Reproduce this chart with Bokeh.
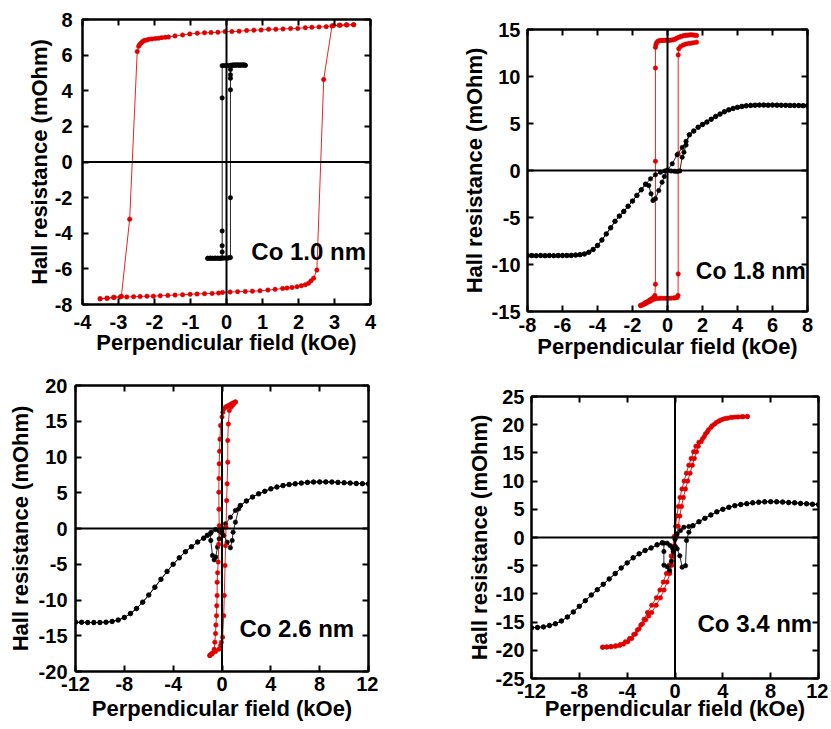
from bokeh.plotting import figure
from bokeh.models import Range1d, FixedTicker, LinearAxis, Span, Label, Spacer
from bokeh.layouts import row, column
from bokeh.embed import file_html
from bokeh.resources import INLINE

# ---------------- data ----------------
# Panel 1: Co 1.0 nm
co10_red_down_x = [3.53, 3.34, 3.16, 2.97, 2.77, 2.57, 2.37, 2.19, 1.98, 1.78, 1.57, 1.37, 1.17, 0.96, 0.76,
                   0.56, 0.35, 0.15, -0.04, -0.24, -0.43, -0.61, -0.81, -1.02, -1.22, -1.43, -1.61, -1.70, -1.80, -1.89,
                   -1.98, -2.07, -2.15, -2.22, -2.28, -2.33, -2.37, -2.41, -2.44, -2.48, -2.69, -2.92, -3.12, -3.32, -3.51]
co10_red_down_y = [7.71, 7.69, 7.68, 7.66, 7.60, 7.58, 7.56, 7.54, 7.50, 7.49, 7.47, 7.45, 7.45, 7.41, 7.40,
                   7.38, 7.34, 7.32, 7.32, 7.28, 7.27, 7.25, 7.23, 7.19, 7.13, 7.08, 7.02, 7.00, 6.98, 6.95,
                   6.93, 6.91, 6.89, 6.85, 6.82, 6.76, 6.68, 6.59, 6.50, 6.20, -3.21, -7.54, -7.60, -7.64, -7.68]
co10_red_up_x = [-3.51, -3.32, -3.14, -2.95, -2.77, -2.58, -2.40, -2.21, -2.03, -1.84, -1.63, -1.43, -1.22, -1.01,
                 -0.82, -0.61, -0.40, -0.22, -0.11, 0.10, 0.31, 0.52, 0.72, 0.93, 1.15, 1.35, 1.56, 1.68, 1.82, 1.96,
                 2.08, 2.19, 2.28, 2.35, 2.42, 2.51, 2.70, 2.93, 3.13, 3.33, 3.53]
co10_red_up_y = [-7.68, -7.66, -7.60, -7.58, -7.58, -7.56, -7.55, -7.53, -7.53, -7.51, -7.49, -7.47, -7.45, -7.43,
                 -7.41, -7.39, -7.38, -7.36, -7.32, -7.30, -7.28, -7.27, -7.25, -7.23, -7.19, -7.15, -7.10, -7.08,
                 -7.04, -7.00, -6.95, -6.89, -6.80, -6.67, -6.52, -6.07, 4.63, 7.64, 7.68, 7.70, 7.71]
co10_blk_down_x = [0.52, 0.48, 0.44, 0.40, 0.36, 0.32, 0.28, 0.24, 0.20, 0.16, 0.12, 0.06, 0.0, -0.06, -0.12,
                   -0.12, -0.12, -0.12, -0.12, -0.12, -0.17, -0.24, -0.31, -0.38, -0.45, -0.52]
co10_blk_down_y = [5.43, 5.45, 5.44, 5.45, 5.43, 5.44, 5.45, 5.43, 5.44, 5.42, 5.43, 5.42, 5.41, 5.42, 5.41,
                   3.60, -3.87, -4.70, -5.05, -5.38, -5.40, -5.41, -5.40, -5.41, -5.40, -5.41]
co10_blk_up_x = [-0.52, -0.45, -0.38, -0.31, -0.24, -0.17, -0.10, -0.04, 0.02, 0.07, 0.11, 0.11, 0.11, 0.11,
                 0.11, 0.11, 0.11, 0.16, 0.22, 0.28, 0.34, 0.40, 0.46, 0.52]
co10_blk_up_y = [-5.41, -5.40, -5.41, -5.40, -5.40, -5.41, -5.40, -5.39, -5.40, -5.38, -5.36, -2.00, 4.05, 4.70,
                 4.90, 5.20, 5.40, 5.44, 5.45, 5.44, 5.45, 5.44, 5.45, 5.43]

# Panel 2: Co 1.8 nm
co18_red_down_x = [1.66, 1.55, 1.45, 1.35, 1.25, 1.15, 1.05, 0.95, 0.85, 0.75, 0.65, 0.55, 0.45, 0.35, 0.25,
                   0.15, 0.05, -0.05, -0.15, -0.25, -0.35, -0.45, -0.55, -0.62, -0.66, -0.69, -0.69, -0.69, -0.69,
                   -0.72, -0.80, -0.90, -1.00, -1.10, -1.20, -1.30, -1.42, -1.54]
co18_red_down_y = [14.35, 14.40, 14.42, 14.43, 14.42, 14.40, 14.38, 14.35, 14.30, 14.25, 14.18, 14.10, 14.00,
                   13.92, 13.88, 13.86, 13.85, 13.85, 13.85, 13.84, 13.84, 13.82, 13.75, 13.60, 13.40, 13.10,
                   10.90, 0.99, -12.10, -13.30, -13.50, -13.65, -13.75, -13.90, -14.00, -14.10, -14.25, -14.36]
co18_red_up_x = [-1.54, -1.42, -1.30, -1.20, -1.10, -1.00, -0.90, -0.80, -0.70, -0.55, -0.40, -0.25, -0.10, 0.05,
                 0.20, 0.35, 0.45, 0.55, 0.60, 0.61, 0.61, 0.61, 0.64, 0.75, 0.90, 1.05, 1.20, 1.35, 1.50, 1.66]
co18_red_up_y = [-14.36, -14.30, -14.20, -14.10, -14.00, -13.90, -13.80, -13.70, -13.65, -13.62, -13.60, -13.60,
                 -13.60, -13.60, -13.58, -13.56, -13.55, -13.50, -13.30, -11.00, 1.77, 12.30, 12.94, 13.20, 13.35,
                 13.45, 13.50, 13.55, 13.60, 13.65]
co18_blk_left_x = [-8.0, -7.75, -7.5, -7.25, -7.0, -6.75, -6.5, -6.25, -6.0, -5.75, -5.5, -5.25, -5.0, -4.75,
                   -4.5, -4.25, -4.0, -3.75, -3.5, -3.25, -3.0, -2.75, -2.5, -2.25, -2.0, -1.75, -1.5, -1.25]
co18_blk_left_y = [-9.05, -9.05, -9.06, -9.05, -9.06, -9.05, -9.06, -9.05, -9.05, -9.04, -9.03, -9.0, -8.95,
                   -8.88, -8.7, -8.4, -7.98, -7.4, -6.75, -6.1, -5.4, -4.85, -4.35, -3.8, -3.25, -2.65, -2.05, -1.45]
co18_blk_right_x = [1.25, 1.5, 1.75, 2.0, 2.25, 2.5, 2.75, 3.0, 3.25, 3.5, 3.75, 4.0, 4.25, 4.5, 4.75, 5.0,
                    5.25, 5.5, 5.75, 6.0, 6.25, 6.5, 6.75, 7.0, 7.25, 7.5, 7.75, 8.0]
co18_blk_right_y = [3.8, 4.2, 4.6, 4.9, 5.15, 5.45, 5.75, 6.0, 6.25, 6.45, 6.6, 6.72, 6.82, 6.88, 6.92, 6.95,
                    6.96, 6.96, 6.95, 6.96, 6.95, 6.94, 6.93, 6.92, 6.92, 6.91, 6.9, 6.9]
co18_blk_mid_down_x = [1.06, 0.84, 0.55, 0.27, 0.0, -0.18, -0.31, -0.50, -0.69, -0.83, -0.94, -1.07]
co18_blk_mid_down_y = [3.1, 2.45, 1.67, 0.71, 0.05, -0.64, -1.24, -2.13, -3.0, -3.19, -2.48, -1.6]
co18_blk_mid_up_x = [-0.97, -0.69, -0.40, -0.15, 0.0, 0.2, 0.4, 0.55, 0.70, 0.84, 0.94, 1.06]
co18_blk_mid_up_y = [-0.89, -0.46, -0.18, -0.05, 0.0, -0.05, -0.08, -0.1, -0.05, 1.42, 1.95, 2.7]

# Panel 3: Co 2.6 nm
co26_red_down_x = [1.10, 0.97, 0.83, 0.70, 0.56, 0.42, 0.29, 0.15, 0.07, 0.00, -0.12, -0.17, -0.20, -0.23, -0.25,
                   -0.26, -0.25, -0.23, -0.27, -0.31, -0.36, -0.40, -0.40, -0.43, -0.45, -0.50, -0.53, -0.59,
                   -0.64, -0.78, -0.90, -1.00]
co26_red_down_y = [17.70, 17.60, 17.50, 17.35, 17.22, 17.10, 16.97, 16.74, 16.27, 15.60, 14.40, 12.50, 10.80,
                   9.05, 7.00, 5.08, 2.70, 0.40, -2.20, -4.70, -6.20, -7.50, -9.37, -10.80, -12.20, -13.50,
                   -14.70, -15.90, -16.90, -17.40, -17.60, -17.76]
co26_red_up_x = [-1.00, -0.81, -0.53, -0.26, -0.12, -0.05, 0.05, 0.14, 0.19, 0.25, 0.29, 0.33, 0.38, 0.42, 0.47,
                 0.47, 0.52, 0.60, 0.75, 0.87, 0.97, 1.10]
co26_red_up_y = [-17.76, -17.53, -17.20, -16.90, -16.36, -15.90, -15.20, -12.20, -9.37, -5.17, -2.40, 0.19,
                 3.90, 6.25, 9.28, 12.30, 14.60, 16.50, 17.00, 17.25, 17.45, 17.70]
co26_blk_left_x = [-12, -11.5, -11, -10.5, -10, -9.5, -9, -8.5, -8, -7.5, -7, -6.5, -6, -5.5, -5, -4.5, -4,
                   -3.5, -3, -2.5, -2, -1.5]
co26_blk_left_y = [-13.1, -13.12, -13.15, -13.15, -13.15, -13.1, -13.0, -12.8, -12.45, -11.9, -11.2, -10.3,
                   -9.3, -8.2, -7.1, -6.0, -5.0, -4.1, -3.25, -2.55, -1.9, -1.35]
co26_blk_right_x = [1.5, 2, 2.5, 3, 3.5, 4, 4.5, 5, 5.5, 6, 6.5, 7, 7.5, 8, 8.5, 9, 9.5, 10, 10.5, 11, 11.5, 12]
co26_blk_right_y = [3.2, 3.85, 4.4, 4.85, 5.2, 5.55, 5.8, 6.0, 6.15, 6.25, 6.35, 6.45, 6.5, 6.52, 6.52, 6.5,
                    6.45, 6.4, 6.35, 6.3, 6.27, 6.25]
co26_blk_mid_down_x = [1.1, 0.69, 0.29, 0.0, -0.1, -0.23, -0.37, -0.51, -0.64, -0.78, -0.92, -0.95, -1.2]
co26_blk_mid_down_y = [2.52, 1.58, 0.65, -0.1, -0.51, -1.45, -2.6, -4.0, -4.38, -3.78, -1.68, -0.7, -0.95]
co26_blk_mid_up_x = [-1.2, -0.88, -0.53, -0.25, 0.0, 0.15, 0.42, 0.69, 0.83, 0.91, 1.1, 1.37]
co26_blk_mid_up_y = [-0.95, -0.51, -0.14, -0.3, -0.5, -0.98, -1.91, -2.7, -1.68, -0.51, 0.89, 2.75]

# Panel 4: Co 3.4 nm
co34_red_down_x = [6.05, 5.6, 5.1, 4.65, 4.2, 3.8, 3.45, 3.1, 2.8, 2.55, 2.3, 2.0,
                   1.75, 1.55, 1.35, 1.15, 0.95, 0.76, 0.58, 0.42, 0.28, 0.16, 0.05, -0.06, -0.18, -0.32, -0.5,
                   -0.72, -0.98, -1.26, -1.56, -1.95, -2.3,
                   -2.58, -2.86, -3.15, -3.45, -3.8, -4.15, -4.55, -4.95, -5.35, -5.7, -6.05]
co34_red_down_y = [21.45, 21.42, 21.36, 21.28, 21.1, 20.8, 20.4, 19.8, 19.1, 18.4, 17.5, 16.9,
                   16.2, 15.2, 14.0, 12.8, 11.4, 10.0, 8.6, 7.1, 5.5, 3.8, 2.0, 0.2, -1.6, -3.3, -4.9,
                   -6.4, -7.9, -9.3, -10.7, -12.0, -13.3,
                   -14.5, -15.5, -16.4, -17.2, -17.9, -18.5, -18.95, -19.2, -19.33, -19.4, -19.45]
co34_red_up_x = [-6.05, -5.7, -5.35, -5.0, -4.65, -4.3, -3.95, -3.62, -3.3, -3.0, -2.72, -2.45, -2.2,
                 -1.95, -1.58, -1.22, -0.92, -0.66, -0.44, -0.26, -0.1, 0.03, 0.15, 0.27, 0.4, 0.54, 0.7, 0.88,
                 1.06, 1.26, 1.45, 1.62, 1.8, 1.95,
                 2.2, 2.45, 2.7, 3.0, 3.3, 3.65, 4.0, 4.4, 4.85, 5.3, 5.7, 6.05]
co34_red_up_y = [-19.45, -19.42, -19.38, -19.3, -19.15, -18.9, -18.5, -17.9, -17.1, -16.2, -15.3, -14.6, -13.9,
                 -13.3, -12.0, -10.7, -9.3, -7.9, -6.4, -4.9, -3.3, -1.6, 0.2, 2.0, 3.8, 5.5, 7.1, 8.6, 10.0,
                 11.4, 12.8, 14.0, 15.2, 16.2,
                 17.0, 17.9, 18.7, 19.5, 20.1, 20.6, 20.95, 21.15, 21.3, 21.37, 21.42, 21.45]
co34_blk_left_x = [-12, -11.5, -11, -10.5, -10, -9.5, -9, -8.5, -8, -7.5, -7, -6.5, -6, -5.5, -5, -4.5, -4,
                   -3.5, -3, -2.5, -2, -1.5]
co34_blk_left_y = [-16.0, -15.95, -15.85, -15.6, -15.3, -14.8, -14.1, -13.2, -12.2, -11.2, -10.2, -9.25, -8.3,
                   -7.35, -6.4, -5.4, -4.5, -3.6, -2.9, -2.3, -1.85, -1.3]
co34_blk_right_x = [1.5, 2, 2.5, 3, 3.5, 4, 4.5, 5, 5.5, 6, 6.5, 7, 7.5, 8, 8.5, 9, 9.5, 10, 10.5, 11, 11.5, 12]
co34_blk_right_y = [2.1, 2.8, 3.4, 4.0, 4.55, 5.0, 5.35, 5.65, 5.85, 6.0, 6.15, 6.25, 6.32, 6.35, 6.33, 6.28,
                    6.2, 6.15, 6.05, 5.98, 5.9, 5.85]
co34_blk_mid_down_x = [1.16, 0.74, 0.46, 0.18, 0.0, -0.15, -0.3, -0.45, -0.65, -0.93, -0.93, -0.93, -1.07]
co34_blk_mid_down_y = [1.95, 1.8, 1.24, 0.65, -0.3, -2.5, -4.2, -5.9, -5.2, -4.9, -2.5, -1.0, -0.95]
co34_blk_mid_up_x = [-1.07, -0.65, -0.42, -0.2, 0.0, 0.18, 0.4, 0.6, 0.88, 0.96, 1.16]
co34_blk_mid_up_y = [-0.95, -1.0, -1.42, -1.9, -1.6, -2.0, -3.25, -5.26, -5.0, -0.53, 0.95]

# axes / ticks / labels
x_title = "Perpendicular field (kOe)"
y_title = "Hall resistance (mOhm)"
co10_xticks = [-4, -3, -2, -1, 0, 1, 2, 3, 4]
co10_yticks = [-8, -6, -4, -2, 0, 2, 4, 6, 8]
co18_xticks = [-8, -6, -4, -2, 0, 2, 4, 6, 8]
co18_yticks = [-15, -10, -5, 0, 5, 10, 15]
co26_xticks = [-12, -8, -4, 0, 4, 8, 12]
co26_yticks = [-20, -15, -10, -5, 0, 5, 10, 15, 20]
co34_xticks = [-12, -8, -4, 0, 4, 8, 12]
co34_yticks = [-25, -20, -15, -10, -5, 0, 5, 10, 15, 20, 25]
labels = ["Co 1.0 nm", "Co 1.8 nm", "Co 2.6 nm", "Co 3.4 nm"]

RED = "#e00000"
BLACK = "#000000"
FONT = "Liberation Sans"
BT = 11


def style_axis(ax, ticks, show, standoff=0, title=None, title_standoff=0):
    ax.ticker = FixedTicker(ticks=ticks)
    ax.major_tick_in = 6
    ax.major_tick_out = 0
    ax.minor_tick_in = 0
    ax.minor_tick_out = 0
    ax.major_tick_line_width = 2
    ax.major_tick_line_color = "black"
    ax.axis_line_width = 2
    ax.axis_line_color = "black"
    ax.major_label_text_font = FONT
    ax.major_label_text_font_style = "bold"
    ax.major_label_standoff = standoff
    if show:
        ax.major_label_text_font_size = "20px"
        ax.major_label_text_color = "black"
        ax.major_label_overrides = {t: str(t) for t in ticks}
    else:
        ax.major_label_text_font_size = "1px"
        ax.major_label_text_color = None
    if title:
        ax.axis_label = title
        ax.axis_label_text_font = FONT
        ax.axis_label_text_font_style = "bold"
        ax.axis_label_text_font_size = "22px"
        ax.axis_label_text_color = "black"
        ax.axis_label_standoff = title_standoff


def panel(fw, fh, bl, br, bb, xr, yr, xt, yt, xs, xts, ys, yts):
    p = figure(frame_width=fw, frame_height=fh, x_range=Range1d(*xr), y_range=Range1d(*yr),
               output_backend="svg", toolbar_location=None,
               min_border_left=bl, min_border_right=br, min_border_top=BT, min_border_bottom=bb)
    p.grid.visible = False
    p.outline_line_color = "black"
    p.outline_line_width = 2
    p.background_fill_color = "white"
    p.border_fill_color = "white"
    style_axis(p.xaxis[0], xt, True, xs, x_title, xts)
    style_axis(p.yaxis[0], yt, True, ys, y_title, yts)
    top = LinearAxis()
    right = LinearAxis()
    style_axis(top, xt, False)
    style_axis(right, yt, False)
    p.add_layout(top, "above")
    p.add_layout(right, "right")
    p.add_layout(Span(location=0, dimension="width", line_color="black", line_width=2))
    p.add_layout(Span(location=0, dimension="height", line_color="black", line_width=2))
    return p


def series(p, x, y, color):
    p.line(x, y, line_color=color, line_width=1, line_alpha=0.85)
    p.scatter(x, y, size=4.5, fill_color=color, line_color=color, line_width=0.5)


def note(p, x, y, text, size="24px"):
    p.add_layout(Label(x=x, y=y, text=text, text_font=FONT, text_font_style="bold",
                       text_font_size=size, text_baseline="alphabetic", text_color="black"))


# Panel 1
p1 = panel(288, 285, 67, 10, 58, (-4, 4), (-8, 8), co10_xticks, co10_yticks, 10, -2, 10, 0)
series(p1, co10_red_down_x + co10_red_up_x, co10_red_down_y + co10_red_up_y, RED)
series(p1, co10_blk_down_x + co10_blk_up_x, co10_blk_down_y + co10_blk_up_y, BLACK)
note(p1, 0.69, -5.04, labels[0])

# Panel 2
p2 = panel(280, 282, 72, 10, 58, (-8, 8), (-15, 15), co18_xticks, co18_yticks, 6, -1, 7, 2)
series(p2, co18_red_down_x + co18_red_up_x, co18_red_down_y + co18_red_up_y, RED)
b2x = co18_blk_right_x[::-1] + co18_blk_mid_down_x + co18_blk_left_x[::-1] + co18_blk_left_x + co18_blk_mid_up_x + co18_blk_right_x
b2y = co18_blk_right_y[::-1] + co18_blk_mid_down_y + co18_blk_left_y[::-1] + co18_blk_left_y + co18_blk_mid_up_y + co18_blk_right_y
series(p2, b2x, b2y, BLACK)
note(p2, 1.62, -10.64, labels[1], "23px")

# Panel 3
p3 = panel(293, 286, 72, 10, 40, (-12, 12), (-20, 20), co26_xticks, co26_yticks, 5, 2, 8, 3)
b3x = co26_blk_right_x[::-1] + co26_blk_mid_down_x + co26_blk_left_x[::-1] + co26_blk_left_x + co26_blk_mid_up_x + co26_blk_right_x
b3y = co26_blk_right_y[::-1] + co26_blk_mid_down_y + co26_blk_left_y[::-1] + co26_blk_left_y + co26_blk_mid_up_y + co26_blk_right_y
series(p3, b3x, b3y, BLACK)
series(p3, co26_red_down_x + co26_red_up_x, co26_red_down_y + co26_red_up_y, RED)
note(p3, 1.43, -13.99, labels[2])

# Panel 4
p4 = panel(287, 282, 72, 10, 40, (-12, 12), (-25, 25), co34_xticks, co34_yticks, 5, -5, 7, 1)
series(p4, co34_red_down_x + co34_red_up_x, co34_red_down_y + co34_red_up_y, RED)
b4x = co34_blk_right_x[::-1] + co34_blk_mid_down_x + co34_blk_left_x[::-1] + co34_blk_left_x + co34_blk_mid_up_x + co34_blk_right_x
b4y = co34_blk_right_y[::-1] + co34_blk_mid_down_y + co34_blk_left_y[::-1] + co34_blk_left_y + co34_blk_mid_up_y + co34_blk_right_y
series(p4, b4x, b4y, BLACK)
note(p4, 1.88, -15.25, labels[3])

row1 = row(Spacer(width=15, height=10), p1, Spacer(width=75, height=10),
           column(Spacer(width=10, height=10), p2, spacing=0), spacing=0)
row2 = row(Spacer(width=3, height=10), column(Spacer(width=10, height=5), p3, spacing=0),
           Spacer(width=81, height=10),
           column(Spacer(width=10, height=16), p4, spacing=0), spacing=0)
layout = column(Spacer(width=10, height=8), row1, row2, spacing=0)
open("out.html", "w").write(file_html(layout, INLINE))
